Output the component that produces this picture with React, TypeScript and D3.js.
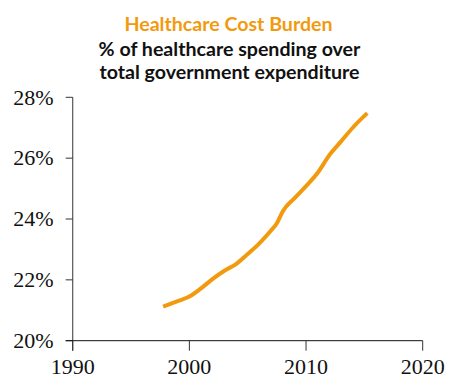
import React from "react";
import * as d3 from "d3";

// Healthcare share of total government expenditure (%)
const years = [1997.75, 1999, 2000, 2001, 2002, 2003, 2004, 2005, 2006, 2007, 2007.5, 2008, 2009, 2010, 2011, 2012, 2013, 2014, 2015.25];
const shares = [21.12, 21.3, 21.45, 21.72, 22.03, 22.3, 22.52, 22.85, 23.2, 23.62, 23.86, 24.25, 24.68, 25.08, 25.52, 26.1, 26.55, 27.0, 27.48];

const xTicks = [1990, 2000, 2010, 2020];
const yTicks = [20, 22, 24, 26, 28];

const titleLines = ["% of healthcare spending over", "total government expenditure"];
const title = "Healthcare Cost Burden";

const W = 449;
const H = 379;
const ORANGE = "#F29A0E";

export default function App() {
  const x = d3.scaleLinear().domain([1990, 2020]).range([72.7, 422.7]);
  const y = d3.scaleLinear().domain([20, 28]).range([340.7, 97.3]);

  const points: [number, number][] = years.map((yr, i) => [yr, shares[i]]);
  const line = d3
    .line<[number, number]>()
    .x((d) => x(d[0]))
    .y((d) => y(d[1]))
    .curve(d3.curveMonotoneX);

  const serif = "Liberation Serif, serif";
  const sans = "Lato, Open Sans, sans-serif";

  return (
    <svg
      width={W}
      height={H}
      style={{ position: "absolute", left: 0, top: 0, background: "#fff" }}
    >
      <text x={228.5} y={31} textAnchor="middle" fontFamily={sans} fontWeight={700} fontSize={19.6} fill={ORANGE}>
        {title}
      </text>
      {titleLines.map((t, i) => (
        <text key={t} x={229.5} y={56 + i * 22.5} textAnchor="middle" fontFamily={sans} fontWeight={700} fontSize={19.6} fill="#111">
          {t}
        </text>
      ))}

      {/* y axis */}
      <line x1={x(1990)} x2={x(1990)} y1={y(28)} y2={y(20) + 10} stroke="#555" strokeWidth={1.2} />
      {yTicks.map((t) => (
        <g key={t}>
          <line x1={x(1990) - 7} x2={x(1990)} y1={y(t)} y2={y(t)} stroke="#333" strokeWidth={1} />
          <text x={x(1990) - 19} y={y(t)} dy="0.33em" textAnchor="end" fontFamily={serif} fontSize={22} fill="#111">
            {t}%
          </text>
        </g>
      ))}

      {/* x axis */}
      <line x1={x(1990) - 7} x2={x(2020)} y1={y(20)} y2={y(20)} stroke="#111" strokeWidth={1} />
      {xTicks.map((t) => (
        <g key={t}>
          <line x1={x(t)} x2={x(t)} y1={y(20)} y2={y(20) + 10} stroke="#333" strokeWidth={1} />
          <text x={x(t)} y={374} textAnchor="middle" fontFamily={serif} fontSize={22} fill="#111">
            {t}
          </text>
        </g>
      ))}

      <path d={line(points) ?? ""} fill="none" stroke={ORANGE} strokeWidth={4} strokeLinejoin="round" />
    </svg>
  );
}
